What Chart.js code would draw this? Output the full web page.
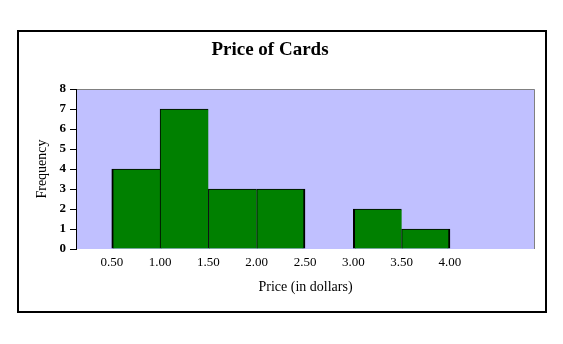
<!DOCTYPE html>
<html>
<head>
<meta charset="utf-8">
<title>Price of Cards</title>
<script src="https://cdn.jsdelivr.net/npm/chart.js@4"></script>
<style>
  html, body { margin: 0; padding: 0; background: #fff; }
  canvas { display: block; }
</style>
</head>
<body>
<canvas id="chart" width="563" height="344"></canvas>
<script>
// histogram data: each bin is 0.50 wide, starting at binStarts[i]
const binStarts = [0.5, 1.0, 1.5, 2.0, 2.5, 3.0, 3.5];
const frequencies = [4, 7, 3, 3, 0, 2, 1];
const binWidth = 0.5;
const xTickValues = [0.5, 1.0, 1.5, 2.0, 2.5, 3.0, 3.5, 4.0];
const yTickValues = [0, 1, 2, 3, 4, 5, 6, 7, 8];

const serif = "'Times New Roman', 'Liberation Serif', serif";

// plot background + outer frame
const frame = {
    id: 'frame',
    beforeDraw(chart) {
        const { ctx, chartArea: a } = chart;
        ctx.save();
        ctx.fillStyle = '#ffffff';
        ctx.fillRect(0, 0, chart.width, chart.height);
        ctx.fillStyle = '#c0c0ff';
        ctx.fillRect(a.left, a.top, a.right - a.left, a.bottom - a.top);
        ctx.strokeStyle = '#808080';
        ctx.lineWidth = 1;
        ctx.beginPath();
        ctx.moveTo(a.left, a.top + 0.5);
        ctx.lineTo(a.right - 0.5, a.top + 0.5);
        ctx.lineTo(a.right - 0.5, a.bottom);
        ctx.stroke();
        ctx.restore();
    },
    afterDraw(chart) {
        const ctx = chart.ctx;
        ctx.save();
        ctx.strokeStyle = '#000000';
        ctx.lineWidth = 2;
        ctx.strokeRect(18, 31, 528, 281);
        ctx.restore();
    }
};

// thicker dark edge where a bar has no neighbour beside it
function barBorder(c) {
    const i = c.dataIndex;
    const prevEmpty = i === 0 || !frequencies[i - 1];
    const nextEmpty = i === frequencies.length - 1 || !frequencies[i + 1];
    return { top: 1, bottom: 0, left: prevEmpty ? 2 : 1, right: nextEmpty ? 2 : 0 };
}

new Chart(document.getElementById('chart'), {
    type: 'bar',
    data: {
        datasets: [{
            data: binStarts.map((s, i) => ({ x: s + binWidth / 2, y: frequencies[i] })),
            backgroundColor: '#008000',
            borderColor: '#000000',
            borderWidth: barBorder,
            borderSkipped: false,
            barPercentage: 1,
            categoryPercentage: 1
        }]
    },
    options: {
        responsive: false,
        animation: false,
        layout: { padding: { left: 5, right: 28, top: 0, bottom: 40 } },
        plugins: {
            legend: { display: false },
            tooltip: { enabled: false },
            title: {
                display: true,
                text: 'Price of Cards',
                color: '#000',
                font: { family: serif, size: 19, weight: 'bold' },
                padding: { top: 38.6, bottom: 27.6 }
            }
        },
        scales: {
            x: {
                type: 'linear',
                min: 0.13,
                max: 4.88,
                offset: false,
                afterBuildTicks(scale) {
                    scale.ticks = xTickValues.map(v => ({ value: v }));
                },
                afterFit(scale) { scale.height = 55; },
                grid: { display: false, drawTicks: false },
                border: { display: false },
                ticks: {
                    color: '#000',
                    font: { family: serif, size: 13 },
                    padding: 6,
                    maxRotation: 0,
                    autoSkip: false,
                    callback: v => Number(v).toFixed(2)
                },
                title: {
                    display: true,
                    text: 'Price (in dollars)',
                    color: '#000',
                    font: { family: serif, size: 14 },
                    padding: { top: 0, bottom: 8 }
                }
            },
            y: {
                min: 0,
                max: 8,
                afterBuildTicks(scale) {
                    scale.ticks = yTickValues.map(v => ({ value: v }));
                },
                afterFit(scale) { scale.width = 71; },
                grid: { drawOnChartArea: false, tickLength: 6, tickColor: '#000' },
                border: { display: true, color: '#000', width: 1 },
                ticks: {
                    color: '#000',
                    font: { family: serif, size: 13, weight: 'bold' },
                    padding: 4
                },
                title: {
                    display: true,
                    text: 'Frequency',
                    color: '#000',
                    font: { family: serif, size: 14 },
                    padding: { top: 29, bottom: 0 }
                }
            }
        }
    },
    plugins: [frame]
});
</script>
</body>
</html>
